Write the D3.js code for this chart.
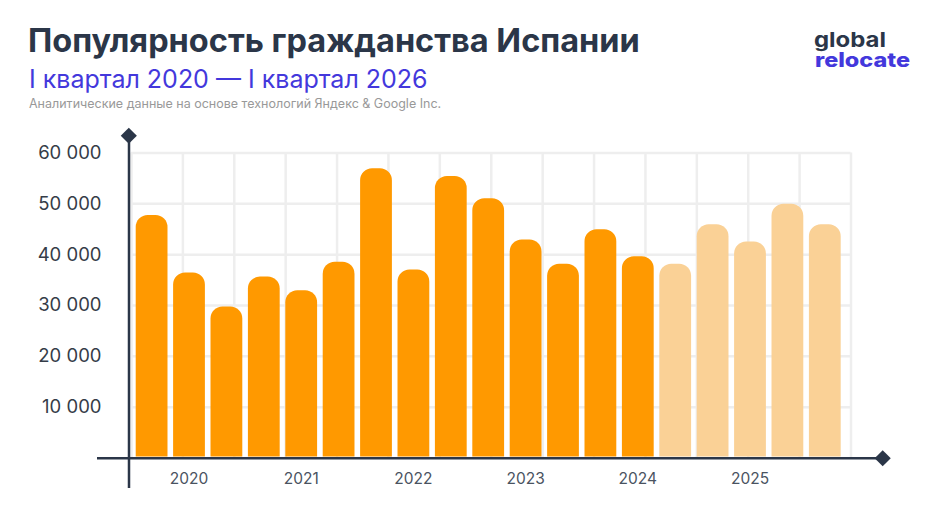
<!DOCTYPE html>
<meta charset="utf-8">
<html>
<head>
<style>
	html, body { margin: 0; padding: 0; background: #fff; }
	svg { display: block; }
	text { font-family: Inter, "Noto Sans", sans-serif; }
	.grid line { stroke: #eeeeee; stroke-width: 2.5; }
	.grid path { display: none; }
	.axis path, .axis line { display: none; }
</style>
</head>
<body>
<script src="https://d3js.org/d3.v7.min.js" charset="utf-8"></script>
<script>

// Data
const quarters = ['2020-1', '2020-2', '2020-3', '2020-4', '2021-1', '2021-2', '2021-3',
	'2021-4', '2022-1', '2022-2', '2022-3', '2022-4', '2023-1', '2023-2', '2023-3',
	'2023-4', '2024-1', '2024-2', '2024-3'];
const values = [47700, 36400, 29700, 35600, 32900, 38500, 56900, 37000, 55400, 51000,
	42900, 38100, 44900, 39600, 38100, 45900, 42500, 49900, 45900];
const forecastFlags = [0, 0, 0, 0, 0, 0, 0, 0, 0, 0, 0, 0, 0, 0, 1, 1, 1, 1, 1];
const yTicks = [10000, 20000, 30000, 40000, 50000, 60000];
const yearTickQuarters = ['2020-2', '2021-1', '2021-4', '2022-3', '2023-2', '2024-1'];
const yearLabels = ['2020', '2021', '2022', '2023', '2024', '2025'];
const gridColumns = [0, 1, 2, 3, 4, 5, 6, 7, 8, 9, 10, 11, 12, 13, 14];

const width = 935,
	height = 522;

const svg = d3.select('body').append('svg')
	.attr('width', width)
	.attr('height', height);

const y = d3.scaleLinear().domain([0, 60000]).range([457.5, 152.5]);
const x = d3.scaleBand().domain(quarters)
	.range([132.9, 843.5])
	.paddingInner(0.15)
	.paddingOuter(0.075);
const gridX = d3.scaleLinear().domain([0, 14]).range([131, 850.5]);

// Background grid
svg.append('g').attr('class', 'grid')
	.attr('transform', 'translate(131,0)')
	.call(d3.axisLeft(y).tickValues(yTicks).tickSize(-719.5).tickFormat(''));
svg.append('g').attr('class', 'grid')
	.attr('transform', 'translate(0,152.5)')
	.call(d3.axisBottom(gridX).tickValues(gridColumns).tickSize(305).tickFormat(''));

// Bars, rounded at the top only
function barPath(d, i) {
	const r = 12;
	const x0 = x(quarters[i]),
		x1 = x0 + x.bandwidth(),
		top = y(d),
		bottom = y(0) - 1;
	return 'M' + x0 + ',' + bottom + 'V' + (top + r)
		+ 'A' + r + ',' + r + ' 0 0 1 ' + (x0 + r) + ',' + top
		+ 'H' + (x1 - r)
		+ 'A' + r + ',' + r + ' 0 0 1 ' + x1 + ',' + (top + r)
		+ 'V' + bottom + 'Z';
}

svg.append('g').selectAll('path')
	.data(values)
	.enter().append('path')
	.attr('d', barPath)
	.attr('fill', (d, i) => forecastFlags[i] ? '#fad196' : '#ff9900');

// Axes lines and diamonds
svg.append('line').attr('x1', 97).attr('x2', 882).attr('y1', 458.2).attr('y2', 458.2)
	.attr('stroke', '#2b3648').attr('stroke-width', 2.5);
svg.append('line').attr('x1', 129).attr('x2', 129).attr('y1', 136).attr('y2', 488)
	.attr('stroke', '#2b3648').attr('stroke-width', 2.5);
svg.append('path').attr('d', d3.symbol(d3.symbolSquare, 130))
	.attr('transform', 'translate(128.8,135.7) rotate(45)').attr('fill', '#2b3648');
svg.append('path').attr('d', d3.symbol(d3.symbolSquare, 130))
	.attr('transform', 'translate(882.7,458.2) rotate(45)').attr('fill', '#2b3648');

// Tick labels
const yAxis = svg.append('g').attr('class', 'axis')
	.attr('transform', 'translate(110,0)')
	.call(d3.axisLeft(y).tickValues(yTicks).tickSize(0).tickPadding(8.5)
		.tickFormat(d => d3.format(',')(d).replace(',', ' ')));
yAxis.selectAll('text')
	.style('font-size', '18.5px')
	.attr('fill', '#353c48');

const xAxis = svg.append('g').attr('class', 'axis')
	.attr('transform', 'translate(0,470)')
	.call(d3.axisBottom(x).tickValues(yearTickQuarters).tickSize(0).tickPadding(3)
		.tickFormat((d, i) => yearLabels[i]));
xAxis.selectAll('text')
	.style('font-size', '15.5px')
	.attr('fill', '#4a5361');

// Titles
svg.append('text').attr('x', 28).attr('y', 52)
	.attr('fill', '#2b3648').style('font-size', '32.5px').style('font-weight', 700)
	.text('Популярность гражданства Испании');
svg.append('text').attr('x', 29).attr('y', 88)
	.attr('fill', '#4338dc').style('font-size', '25px')
	.text('I квартал 2020 — I квартал 2026');
svg.append('text').attr('x', 29).attr('y', 108)
	.attr('fill', '#999999').style('font-size', '12.5px')
	.text('Аналитические данные на основе технологий Яндекс & Google Inc.');

// Logo, stretched a bit because its typeface is wider than Inter
svg.append('text').attr('x', 814).attr('y', 47)
	.attr('textLength', 72).attr('lengthAdjust', 'spacingAndGlyphs')
	.attr('fill', '#2b3648').style('font-size', '20.5px').style('font-weight', 700)
	.text('global');
svg.append('text').attr('x', 815).attr('y', 67)
	.attr('textLength', 95).attr('lengthAdjust', 'spacingAndGlyphs')
	.attr('fill', '#4338dc').style('font-size', '20px').style('font-weight', 800)
	.text('relocate');
</script>
</body>
</html>
